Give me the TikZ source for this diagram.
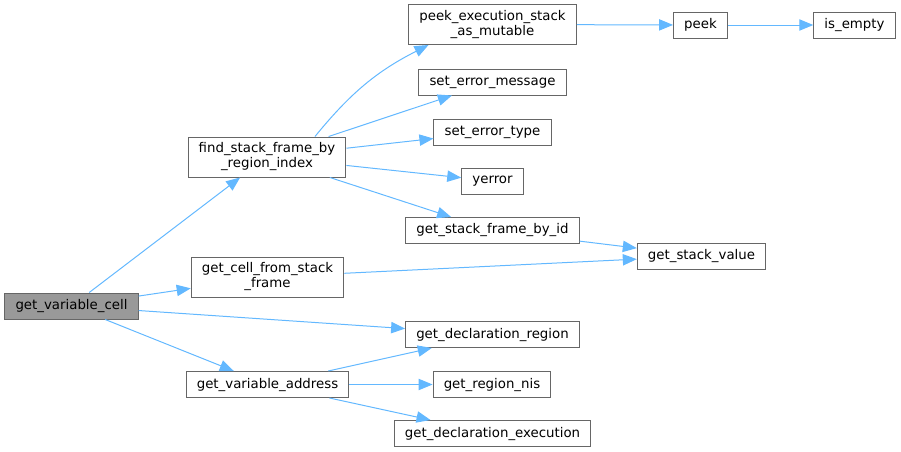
\documentclass[tikz,border=0pt]{standalone}
\usepackage{fontspec}
\setmainfont{DejaVu Sans}
\usetikzlibrary{arrows.meta}
\definecolor{edgeblue}{RGB}{99,184,255}
\definecolor{boxline}{RGB}{102,102,102}
\definecolor{rootfill}{RGB}{153,153,153}

\begin{document}
\begin{tikzpicture}[x=0.75pt, y=-0.75pt,
  n/.style={draw=boxline, line width=0.75pt, fill=white, align=center, inner xsep=8pt, inner ysep=0pt,
    minimum height=19.5pt, font=\fontsize{10}{11.25}\selectfont},
  n2/.style={n, minimum height=30pt},
  e/.style={-{Triangle[length=10.5pt,width=8.5pt]}, draw=edgeblue, line width=0.75pt}]
  \useasboundingbox (0,0) rectangle (901,451);
  \node[n, fill=rootfill] (cell) at (71.5,306) {get\_variable\_cell};
  \node[n2] (find)    at (267,157)   {find\_stack\_frame\_by\\\_region\_index};
  \node[n2] (cellsf)  at (267.5,277) {get\_cell\_from\_stack\\\_frame};
  \node[n]  (vaddr)   at (267.5,384.5) {get\_variable\_address};
  \node[n2] (peekx)   at (492.5,24.5) {peek\_execution\_stack\\\_as\_mutable};
  \node[n]  (errmsg)  at (492.5,82)  {set\_error\_message};
  \node[n]  (errtype) at (492.5,132) {set\_error\_type};
  \node[n]  (yerr)    at (492.5,181) {yerror};
  \node[n]  (sfid)    at (492.5,230.5) {get\_stack\_frame\_by\_id};
  \node[n]  (dreg)    at (492.5,334.5) {get\_declaration\_region};
  \node[n]  (rnis)    at (492,384.5) {get\_region\_nis};
  \node[n]  (dexec)   at (492.5,433.5) {get\_declaration\_execution};
  \node[n]  (peek)    at (700.5,25)  {peek};
  \node[n]  (empty)   at (854.5,25)  {is\_empty};
  \node[n]  (sval)    at (701.5,256) {get\_stack\_value};
  % calls
  \draw[e] (cell) -- (find);
  \draw[e] (cell) -- (cellsf);
  \draw[e] (cell) -- (dreg);
  \draw[e] (cell) -- (vaddr);
  \draw[e] ([xshift=36pt]find.north) to[bend left=12] ([xshift=-48pt]peekx.south);
  \draw[e] (find) -- (errmsg);
  \draw[e] (find) -- (errtype);
  \draw[e] (find) -- (yerr);
  \draw[e] (find) -- (sfid);
  \draw[e] (peekx) -- (peek);
  \draw[e] (peek) -- (empty);
  \draw[e] (sfid) -- (sval);
  \draw[e] (cellsf) -- (sval);
  \draw[e] (vaddr) -- (dreg);
  \draw[e] (vaddr) -- (rnis);
  \draw[e] (vaddr) -- (dexec);
\end{tikzpicture}
\end{document}
